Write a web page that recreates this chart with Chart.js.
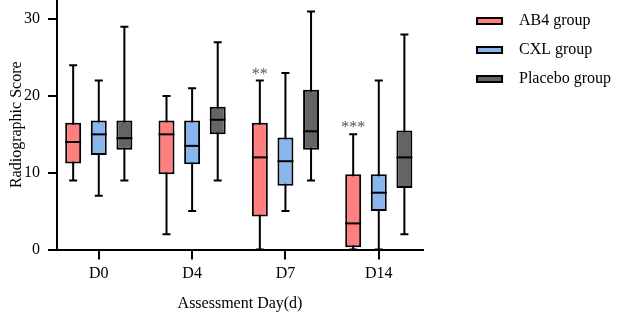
<!DOCTYPE html>
<html><head><meta charset="utf-8">
<script src="https://cdn.jsdelivr.net/npm/chart.js@4.4.1/dist/chart.umd.min.js"></script>
<style>html,body{margin:0;padding:0;background:#fff;}#wrap{width:623px;height:314px;position:relative;}canvas{display:block;}</style>
</head><body><div id="wrap"><canvas id="c" width="623" height="314"></canvas></div>
<script>
const categories = ['D0', 'D4', 'D7', 'D14'];
const groupNames = ['AB4 group', 'CXL group', 'Placebo group'];
const yTicks = [0, 10, 20, 30];

const ab4Min = [9, 2, 0, 0];
const ab4Q1 = [11.2, 9.8, 4.3, 0.3];
const ab4Median = [14, 15, 12, 3.4];
const ab4Q3 = [16.5, 16.8, 16.5, 9.8];
const ab4Max = [24, 20, 22, 15];
const ab4Sig = ['', '', '**', '***'];

const cxlMin = [7, 5, 5, 0];
const cxlQ1 = [12.3, 11.1, 8.3, 5.0];
const cxlMedian = [15, 13.5, 11.5, 7.4];
const cxlQ3 = [16.8, 16.8, 14.6, 9.8];
const cxlMax = [22, 21, 23, 22];
const cxlSig = ['', '', '', ''];

const plcMin = [9, 9, 9, 2];
const plcQ1 = [13, 15, 13, 8];
const plcMedian = [14.5, 16.9, 15.4, 12];
const plcQ3 = [16.8, 18.6, 20.8, 15.5];
const plcMax = [29, 27, 31, 28];
const plcSig = ['', '', '', ''];

const FONT = "'Liberation Serif', 'Times New Roman', serif";
const stats = [
  {min: ab4Min, q1: ab4Q1, med: ab4Median, q3: ab4Q3, max: ab4Max, sig: ab4Sig, color: '#FF7F7F'},
  {min: cxlMin, q1: cxlQ1, med: cxlMedian, q3: cxlQ3, max: cxlMax, sig: cxlSig, color: '#8AB6EE'},
  {min: plcMin, q1: plcQ1, med: plcMedian, q3: plcQ3, max: plcMax, sig: plcSig, color: '#646464'}
];

function makeSwatch(color) {
  const c = document.createElement('canvas');
  c.width = 35; c.height = 8;
  const g = c.getContext('2d');
  g.fillStyle = color;
  g.fillRect(1, 1, 25, 6);
  g.strokeStyle = '#000';
  g.lineWidth = 2;
  g.strokeRect(1, 1, 25, 6);
  return c;
}
const swatches = stats.map(s => makeSwatch(s.color));

const datasets = stats.map((s, d) => ({
  label: groupNames[d],
  data: categories.map((c, i) => ({x: i, y: [s.q1[i], s.q3[i]]})),
  backgroundColor: s.color,
  borderColor: '#000',
  borderWidth: 2,
  borderSkipped: false,
  categoryPercentage: 0.823,
  barPercentage: 0.623
}));

const boxPlugin = {
  id: 'boxplot',
  beforeDatasetsDraw(chart) {
    const ctx = chart.ctx, ys = chart.scales.y;
    ctx.save();
    ctx.strokeStyle = '#000';
    ctx.lineWidth = 2;
    stats.forEach((s, d) => {
      chart.getDatasetMeta(d).data.forEach((bar, i) => {
        const x = bar.x;
        const yMin = ys.getPixelForValue(s.min[i]);
        const yMax = ys.getPixelForValue(s.max[i]);
        ctx.beginPath();
        ctx.moveTo(x, yMin); ctx.lineTo(x, yMax);
        ctx.moveTo(x - 4, yMin); ctx.lineTo(x + 4, yMin);
        ctx.moveTo(x - 4, yMax); ctx.lineTo(x + 4, yMax);
        ctx.stroke();
      });
    });
    ctx.restore();
  },
  afterDatasetsDraw(chart) {
    const ctx = chart.ctx, ys = chart.scales.y;
    ctx.save();
    ctx.strokeStyle = '#000';
    ctx.lineWidth = 2;
    stats.forEach((s, d) => {
      chart.getDatasetMeta(d).data.forEach((bar, i) => {
        const x = bar.x, w = bar.width;
        const ym = ys.getPixelForValue(s.med[i]);
        ctx.beginPath();
        ctx.moveTo(x - w / 2, ym); ctx.lineTo(x + w / 2, ym);
        ctx.stroke();
        if (s.sig[i]) {
          ctx.fillStyle = '#555';
          ctx.font = '16px ' + FONT;
          ctx.textAlign = 'center';
          ctx.textBaseline = 'alphabetic';
          ctx.fillText(s.sig[i], x, ys.getPixelForValue(s.max[i]) - 2);
        }
      });
    });
    ctx.restore();
  },
  afterDraw(chart) {
    const ctx = chart.ctx;
    const xs = chart.scales.x;
    const y0 = chart.chartArea.bottom;
    ctx.save();
    ctx.fillStyle = '#000000';
    categories.forEach((c, i) => {
      ctx.fillRect(Math.round(xs.getPixelForValue(i)) - 1, y0, 2, 10);
    });
    ctx.restore();
  }
};

function noPad(scale) {
  scale.paddingTop = 0; scale.paddingBottom = 0;
  scale.paddingLeft = 0; scale.paddingRight = 0;
}

Chart.defaults.font.family = FONT;
Chart.defaults.font.size = 16;
Chart.defaults.color = '#000';

new Chart(document.getElementById('c'), {
  type: 'bar',
  data: {datasets},
  plugins: [boxPlugin],
  options: {
    responsive: false,
    animation: false,
    devicePixelRatio: 1,
    layout: {padding: {top: 0, right: 2, left: 0, bottom: 0}},
    plugins: {
      tooltip: {enabled: false},
      legend: {
        position: 'right',
        align: 'start',
        maxWidth: 300,
        labels: {
          usePointStyle: true,
          pointStyleWidth: 35,
          boxHeight: 8,
          padding: 13,
          color: '#000',
          font: {size: 16, family: FONT},
          generateLabels(chart) {
            const items = Chart.defaults.plugins.legend.labels.generateLabels(chart);
            items.forEach((it, k) => { it.pointStyle = swatches[k]; });
            return items;
          }
        }
      }
    },
    scales: {
      x: {
        type: 'linear',
        offset: false,
        min: -0.4476,
        max: 3.474,
        afterBuildTicks(scale) { scale.ticks = categories.map((c, i) => ({value: i})); },
        afterFit(scale) { scale.height = 64.5; noPad(scale); },
        ticks: {callback: (v) => categories[v], padding: 6, color: '#000', font: {size: 16, family: FONT}, maxRotation: 0},
        grid: {display: true, offset: false, drawOnChartArea: false, drawTicks: true, tickLength: 9, color: '#000', lineWidth: 2},
        border: {display: true, color: '#000', width: 2},
        title: {display: true, text: 'Assessment Day(d)', color: '#000', font: {size: 16, family: FONT}, padding: {top: 0, bottom: 1}}
      },
      y: {
        min: 0,
        max: 32.5,
        afterBuildTicks(scale) { scale.ticks = yTicks.map(v => ({value: v})); },
        afterFit(scale) { scale.width = 57; noPad(scale); },
        ticks: {padding: 8, color: '#000', font: {size: 16, family: FONT}},
        grid: {display: true, drawOnChartArea: false, drawTicks: true, tickLength: 9, color: '#000', lineWidth: 2},
        border: {display: true, color: '#000', width: 2},
        title: {display: true, text: 'Radiographic Score', color: '#000', font: {size: 16, family: FONT}, padding: {top: 7, bottom: 0}}
      },
      gap: {
        type: 'linear',
        position: 'right',
        display: true,
        afterFit(scale) { scale.width = 40; noPad(scale); },
        ticks: {display: false},
        grid: {display: false},
        border: {display: false}
      }
    }
  }
});
</script></body></html>
